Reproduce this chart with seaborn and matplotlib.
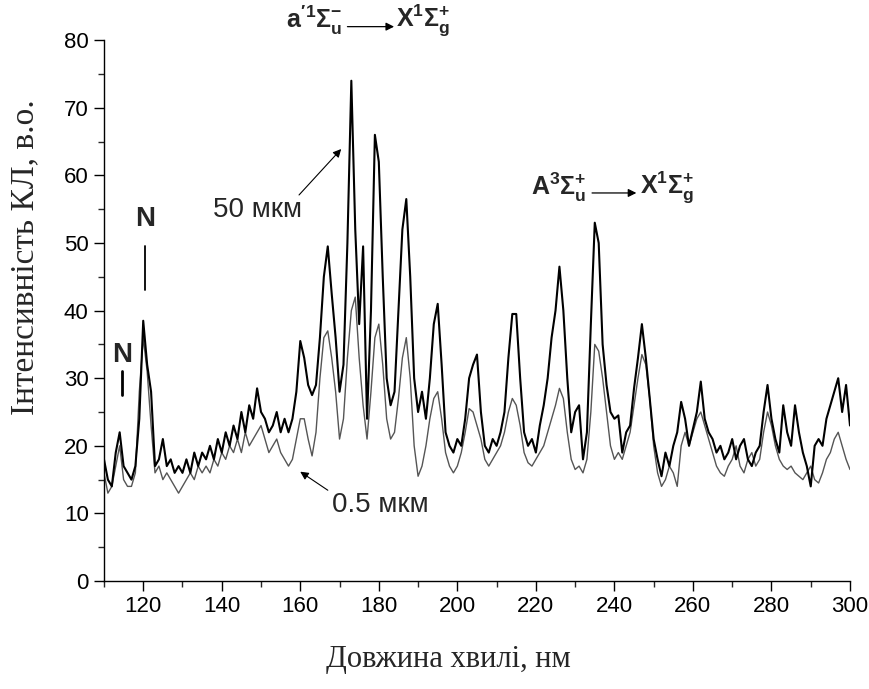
import numpy as np
import pandas as pd
import matplotlib
matplotlib.use("Agg")
import matplotlib.pyplot as plt
from matplotlib import font_manager
import seaborn as sns

# ---- data ----
wavelength = list(range(110, 301))

i_50um = [
    18, 15, 14, 19, 22, 17, 16, 15, 17, 24,          # 110-119
    38.5, 32, 28, 17, 18, 21, 17, 18, 16, 17,        # 120-129
    16, 18, 16, 19, 17, 19, 18, 20, 18, 21,          # 130-139
    19, 22, 20, 23, 21, 25, 22, 26, 24, 28.5,        # 140-149
    25, 24, 22, 23, 25, 22, 24, 22, 24, 28,          # 150-159
    35.5, 33, 29, 27.5, 29, 36, 45, 49.5, 42.5, 36,  # 160-169
    28, 32, 50, 74, 52, 38, 49.5, 24, 40, 66,        # 170-179
    62, 45, 30, 26, 28, 40, 52, 56.5, 45, 30,        # 180-189
    25, 28, 24, 30, 38, 41, 32, 22, 20, 19,          # 190-199
    21, 20, 24, 30, 32, 33.5, 25, 20, 19, 21,        # 200-209
    20, 22, 25, 33, 39.5, 39.5, 30, 22, 20, 21,      # 210-219
    19, 23, 26, 30, 36, 40, 46.5, 40, 30, 22,        # 220-229
    25, 26, 18, 22, 38, 53, 50, 35, 29, 25,          # 230-239
    24, 24.5, 19, 22, 23, 28.5, 33, 38, 33, 27,      # 240-249
    21, 18, 15.5, 19, 17, 20, 22, 26.5, 24, 20,      # 250-259
    22.5, 25, 29.5, 24, 22, 21, 19, 20, 18, 19,      # 260-269
    21, 18, 20, 21, 18, 17, 19, 20, 25, 29,          # 270-279
    24, 21, 19, 26, 22, 20, 26, 22, 19, 17,          # 280-289
    14, 20, 21, 20, 24, 26, 28, 30, 25, 29,          # 290-299
    23,                                              # 300
]

i_05um = [
    16, 13, 14, 17, 20, 15, 14, 14, 16, 28,          # 110-119
    36, 31, 23, 16, 17, 15, 16, 15, 14, 13,          # 120-129
    14, 15, 16, 15, 17, 16, 17, 16, 18, 17,          # 130-139
    19, 18, 20, 19, 21, 19, 22, 20, 21, 22,          # 140-149
    23, 21, 19, 20, 21, 19, 18, 17, 18, 21,          # 150-159
    24, 24, 21, 18.5, 22, 30, 36, 37, 33, 28,        # 160-169
    21, 24, 33, 40, 42, 33, 26, 21, 28, 36,          # 170-179
    38, 32, 24, 21, 22, 27, 33, 36, 30, 20,          # 180-189
    15.5, 17, 20, 24, 27, 28, 24, 19, 17, 16,        # 190-199
    17, 19, 22, 25.5, 25, 23, 21, 18, 17, 18,        # 200-209
    19, 20, 22, 25, 27, 26, 23, 19, 17.5, 17,        # 210-219
    18, 19, 20, 22, 24, 26, 28.5, 27, 22, 18,        # 220-229
    16.5, 17, 16, 18, 25, 35, 34, 30, 25, 20,        # 230-239
    18, 19, 18, 20, 22, 26, 30, 33.5, 32, 27,        # 240-249
    20, 16, 14, 15, 17, 16, 14, 20, 22, 20,          # 250-259
    22, 24, 25, 23, 21, 19, 17, 16, 15.5, 17,        # 260-269
    18, 20, 17, 16, 18, 19, 17, 18, 22, 25,          # 270-279
    23, 20, 18, 17, 16.5, 17, 16, 15.5, 15, 16,      # 280-289
    17, 15, 14.5, 16, 18, 19, 21, 22, 20, 18,        # 290-299
    16.5,                                            # 300
]

x_ticks = list(range(120, 301, 20))
y_ticks = list(range(0, 81, 10))

# ---- style ----
sns.set_style("ticks")
plt.rcParams["font.family"] = ["Liberation Sans", "DejaVu Sans"]
plt.rcParams["mathtext.fontset"] = "custom"
plt.rcParams["mathtext.rm"] = "Liberation Sans:bold"
plt.rcParams["mathtext.bf"] = "Liberation Sans:bold"
plt.rcParams["mathtext.it"] = "Liberation Sans:bold"

installed = {f.name for f in font_manager.fontManager.ttflist}
narrow = "Liberation Sans Narrow" in installed
tick_family = ["Liberation Sans Narrow"] if narrow else ["Liberation Sans"]
tick_size = 20 if narrow else 16

fig = plt.figure(figsize=(8.7, 6.89), dpi=100)
ax = fig.add_axes([0.1195, 0.1567, 0.8575, 0.785])

df = pd.DataFrame({"x": wavelength, "a": i_50um, "b": i_05um})
sns.lineplot(data=df, x="x", y="b", ax=ax, color="#555555", lw=1.0,
             estimator=None, sort=False)
sns.lineplot(data=df, x="x", y="a", ax=ax, color="black", lw=1.5,
             estimator=None, sort=False)

ax.set_xlim(110, 300)
ax.set_ylim(0, 80)
ax.set_xticks(x_ticks)
ax.set_xticks(list(range(110, 301, 10)), minor=True)
ax.set_yticks(y_ticks)
ax.set_yticks(list(range(0, 81, 5)), minor=True)
ax.tick_params(axis="both", which="major", length=7, width=1, direction="out",
               labelsize=tick_size, colors="black", pad=4)
ax.tick_params(axis="both", which="minor", length=4, width=1, direction="out")
for lab in ax.get_xticklabels() + ax.get_yticklabels():
    lab.set_family(tick_family)
sns.despine(ax=ax)
for s in ("left", "bottom"):
    ax.spines[s].set_color("black")
    ax.spines[s].set_linewidth(1.0)

ax.set_xlabel("Довжина хвилі, нм", family=["Liberation Serif"], fontsize=22)
ax.set_ylabel("Інтенсивність КЛ, в.о.", family=["Liberation Serif"], fontsize=24)
ax.xaxis.set_label_coords(0.461, -0.146)
ax.xaxis.label.set_va("center")
ax.yaxis.set_label_coords(-0.106, 0.599)
ax.yaxis.label.set_va("center")

# ---- annotations ----
ax.text(149, 54.9, "50 мкм", fontsize=20, ha="center", va="center")
ax.annotate("", xy=(170.9, 64.2), xytext=(159.2, 56.8),
            arrowprops=dict(arrowstyle="-|>", lw=0.8, color="black",
                            mutation_scale=12))
ax.text(180.4, 11.2, "0.5 мкм", fontsize=20, ha="center", va="center")
ax.annotate("", xy=(159.4, 16.4), xytext=(167.6, 13.2),
            arrowprops=dict(arrowstyle="-|>", lw=0.8, color="black",
                            mutation_scale=12))

ax.text(114.6, 33.5, "N", fontsize=20, fontweight="bold", ha="center", va="center")
ax.plot([114.6, 114.6], [27.5, 31], color="black", lw=2.0)
ax.text(120.5, 53.5, "N", fontsize=20, fontweight="bold", ha="center", va="center")
ax.plot([120.5, 120.5], [43, 49.5], color="black", lw=1.3)

ax.text(170.8, 83.0, r"$\mathbf{a'^{1}\Sigma_{u}^{-}}$", fontsize=18,
        ha="right", va="center", clip_on=False)
ax.annotate("", xy=(184.6, 82.0), xytext=(171.3, 82.0), annotation_clip=False,
            arrowprops=dict(arrowstyle="-|>", lw=0.9, color="black",
                            mutation_scale=12))
ax.text(184.3, 83.0, r"$\mathbf{X^{1}\Sigma_{g}^{+}}$", fontsize=18,
        ha="left", va="center", clip_on=False)

ax.text(233.0, 58.3, r"$\mathbf{A^{3}\Sigma_{u}^{+}}$", fontsize=18,
        ha="right", va="center")
ax.annotate("", xy=(246.3, 57.4), xytext=(233.6, 57.4),
            arrowprops=dict(arrowstyle="-|>", lw=0.9, color="black",
                            mutation_scale=12))
ax.text(246.4, 58.3, r"$\mathbf{X^{1}\Sigma_{g}^{+}}$", fontsize=18,
        ha="left", va="center")

fig.savefig("out.png", dpi=100, facecolor="white")
